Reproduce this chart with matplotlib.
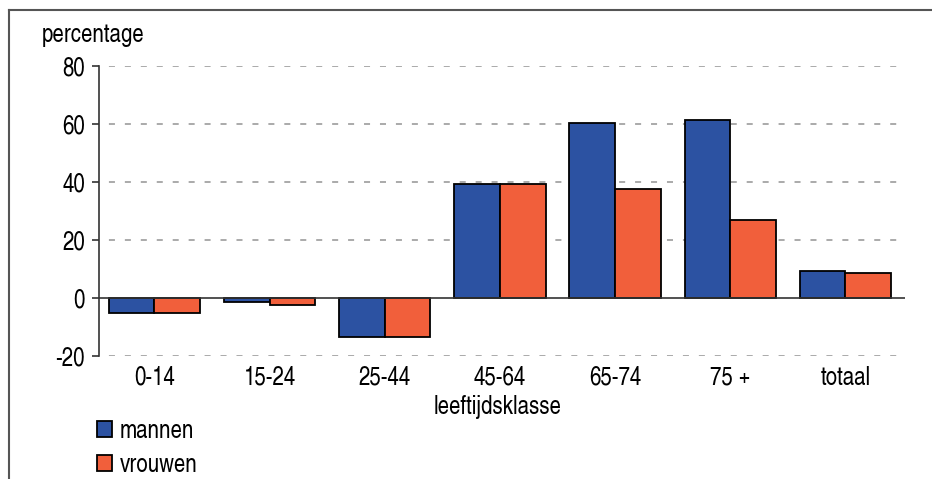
import matplotlib
matplotlib.use("Agg")
import matplotlib.pyplot as plt
import numpy as np
from matplotlib.lines import Line2D

categories = ["0-14", "15-24", "25-44", "45-64", "65-74", "75 +", "totaal"]
mannen = [-5.3, -1.5, -13.5, 39.4, 60.5, 61.4, 9.4]
vrouwen = [-5.3, -2.4, -13.5, 39.4, 37.6, 27.0, 8.6]
series_labels = ["mannen", "vrouwen"]
yticks = [-20, 0, 20, 40, 60, 80]

plt.rcParams['font.family'] = ['TeX Gyre Heros Cn', 'DejaVu Sans']

BLUE = "#2C52A2"
ORANGE = "#F15F3B"
FS = 18

fig = plt.figure(figsize=(9.32, 4.79), dpi=100)
ax = fig.add_axes([99/932, 1-356/479, (905-99)/932, (356-66)/479])

x = np.arange(len(categories))
w = 0.396
b1 = ax.bar(x - w/2, mannen, w, color=BLUE, edgecolor="black", linewidth=1.3, label=series_labels[0], zorder=3)
b2 = ax.bar(x + w/2, vrouwen, w, color=ORANGE, edgecolor="black", linewidth=1.3, label=series_labels[1], zorder=3)

ax.set_xlim(-0.481, len(categories) - 0.483)
ax.set_ylim(-20, 80)
ax.set_yticks(yticks)
ax.set_yticklabels([str(t) for t in yticks], fontsize=FS)
ax.set_xticks(x)
ax.set_xticklabels(categories, fontsize=FS)
ax.tick_params(axis='x', length=0, pad=7)
ax.tick_params(axis='y', length=5, width=1.2, color="#333333", pad=5, direction='out')

for t in yticks:
    if t != 0:
        ax.axhline(t, color="#AAAAAA", lw=1.4, linestyle=(3.1, (3.1, 5.1)), zorder=1)
ax.axhline(0, color="#333333", lw=1.2, zorder=4)

for s in ["top", "right", "bottom"]:
    ax.spines[s].set_visible(False)
ax.spines["left"].set_color("#333333")
ax.spines["left"].set_linewidth(1.2)

fig.text(42/932, 1-35/479, "percentage", fontsize=FS, va="center", ha="left")
fig.text(498/932, 1-407/479, "leeftijdsklasse", fontsize=FS, va="center", ha="center")

leg = fig.legend(handles=[b1, b2], labels=series_labels, loc="upper left",
                 bbox_to_anchor=(97/932, 1-419/479), frameon=False, fontsize=FS,
                 handlelength=0.6, handleheight=0.6, handletextpad=0.3, labelspacing=0.38,
                 borderpad=0, borderaxespad=0)

# outer frame (top and left lines)
fig.add_artist(Line2D([9/932, 1.0], [1-10/479, 1-10/479], transform=fig.transFigure, color="#555555", lw=1.5))
fig.add_artist(Line2D([9/932, 9/932], [0, 1-10/479], transform=fig.transFigure, color="#555555", lw=1.5))

fig.savefig("out.png", dpi=100)
